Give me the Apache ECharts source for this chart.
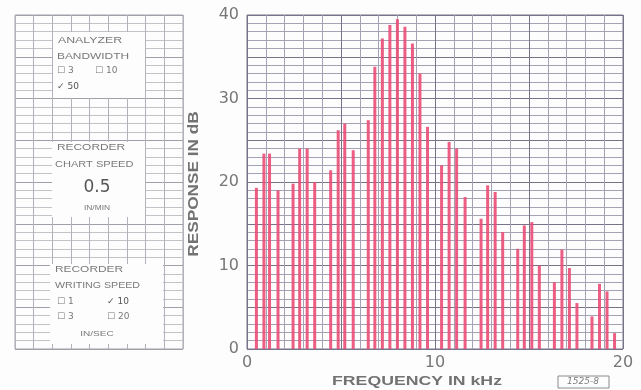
<!DOCTYPE html>
<html>
<head>
<meta charset="utf-8">
<script src="https://cdn.jsdelivr.net/npm/echarts@6/dist/echarts.min.js"></script>
<style>
  html, body { margin: 0; padding: 0; background: #fdfdfd; }
  #chart { width: 641px; height: 390px; }
</style>
</head>
<body>
<div id="chart"></div>
<script>
// spectrum lines (kHz, dB)
var freqKHz = [0.5, 0.9, 1.2, 1.65, 2.45, 2.8, 3.2, 3.6, 4.45, 4.85, 5.2, 5.65,
    6.45, 6.8, 7.2, 7.6, 8.0, 8.4, 8.8, 9.2, 9.6, 10.35, 10.75, 11.15, 11.6,
    12.45, 12.8, 13.2, 13.6, 14.4, 14.75, 15.15, 15.55, 16.35, 16.75, 17.15, 17.55,
    18.35, 18.75, 19.15, 19.55]
var responseDb = [19.3, 23.4, 23.4, 19, 19.8, 24, 24, 20, 21.4, 26.2, 27, 23.8,
    27.4, 33.8, 37.2, 38.8, 39.5, 38.6, 36.6, 33, 26.6, 22, 24.8, 24, 18.2,
    15.6, 19.6, 18.8, 14, 12, 14.8, 15.2, 10, 8, 11.9, 9.7, 5.5,
    3.9, 7.8, 6.9, 1.9]
var xTickLabels = [0, 10, 20]
var yTickLabels = [0, 10, 20, 30, 40]

var points = freqKHz.map(function (f, i) { return [f, responseDb[i]] })

var chart = echarts.init(document.getElementById('chart'))

var ink = '#777'
var panelText = '#787878'
// every 5th grid line heavier, like the recorder paper
var mainLines = ['#77748a', '#a4a2b4', '#a4a2b4', '#a4a2b4', '#a4a2b4']
var panelLines = ['#a0a0a9', '#c2c2c9', '#c2c2c9', '#c2c2c9', '#c2c2c9']

function txt(s, x, y, size, opts) {
    opts = opts || {}
    return {
        type: 'text', z: 120,
        x: x, y: y,
        scaleX: opts.scale || 1,
        rotation: opts.rotation || 0,
        style: {
            text: s, x: 0, y: 0,
            fill: opts.color || panelText,
            font: (opts.weight || 'normal') + ' ' + size + 'px ' + (opts.family || '"Liberation Sans"'),
            textAlign: opts.align || 'left',
            textVerticalAlign: 'middle'
        }
    }
}
function box(x, y, w, h) {
    return { type: 'rect', z: 110, shape: { x: x, y: y, width: w, height: h },
        style: { fill: '#fdfdfd' } }
}

let option = {
    backgroundColor: '#fdfdfd',
    animation: false,
    grid: [
        { left: 247, top: 15, width: 376, height: 334, show: true, borderColor: '#77758a', borderWidth: 1 },
        { left: 15, top: 15, width: 168, height: 334, show: true, borderColor: '#a3a3ab', borderWidth: 1 }
    ],
    xAxis: [
        {
            type: 'value', gridIndex: 0, min: 0, max: 20, interval: 1,
            axisLine: { show: false }, axisTick: { show: false },
            axisLabel: {
                color: ink, fontSize: 16, margin: 6, fontFamily: 'DejaVu Sans',
                formatter: function (v) { return xTickLabels.indexOf(v) >= 0 ? String(v) : '' }
            },
            splitLine: { show: true, lineStyle: { color: mainLines, width: 1 } }
        },
        {
            type: 'value', gridIndex: 1, min: 0, max: 9, interval: 1,
            axisLine: { show: false }, axisTick: { show: false }, axisLabel: { show: false },
            splitLine: { show: true, lineStyle: { color: '#b2b2ba', width: 1 } }
        }
    ],
    yAxis: [
        {
            type: 'value', gridIndex: 0, min: 0, max: 40, interval: 1,
            axisLine: { show: false }, axisTick: { show: false },
            axisLabel: {
                color: ink, fontSize: 16, margin: 8, fontFamily: 'DejaVu Sans',
                formatter: function (v) { return yTickLabels.indexOf(v) >= 0 ? String(v) : '' }
            },
            splitLine: { show: true, lineStyle: { color: mainLines, width: 1 } }
        },
        {
            type: 'value', gridIndex: 1, min: 0, max: 40, interval: 1,
            axisLine: { show: false }, axisTick: { show: false }, axisLabel: { show: false },
            splitLine: { show: true, lineStyle: { color: panelLines, width: 1 } }
        }
    ],
    series: [
        {
            name: 'Response',
            type: 'bar',
            xAxisIndex: 0, yAxisIndex: 0,
            barWidth: 3,
            itemStyle: { color: '#ea4d75', opacity: 0.9 },
            data: points
        }
    ],
    graphic: [
        // axis titles
        txt('RESPONSE IN dB', 194, 184, 14, { rotation: Math.PI / 2, align: 'center', weight: 'bold', color: '#727272', scale: 1.23 }),
        txt('FREQUENCY IN kHz', 417, 381, 13, { align: 'center', weight: 'bold', color: '#727272', scale: 1.36 }),
        { type: 'rect', z: 110, shape: { x: 558, y: 376, width: 51, height: 12 },
            style: { fill: 'none', stroke: '#8a8a8a', lineWidth: 1 } },
        txt('1525-8', 583, 382, 9, { align: 'center', color: '#7a7a7a', family: '"DejaVu Sans"', weight: 'italic' }),

        // analyzer bandwidth
        box(53, 32, 92, 66),
        txt('ANALYZER', 58, 41, 8.5, { scale: 1.45 }),
        txt('BANDWIDTH', 57, 57, 8.5, { scale: 1.4 }),
        txt('\u2610 3', 57, 71, 9, { family: '"DejaVu Sans"' }),
        txt('\u2610 10', 95, 71, 9, { family: '"DejaVu Sans"' }),
        txt('\u2713 50', 57, 87, 9, { family: '"DejaVu Sans"', color: '#555' }),

        // chart speed
        box(52, 142, 93, 75),
        txt('RECORDER', 57, 148, 8.5, { scale: 1.4 }),
        txt('CHART SPEED', 55, 165, 8.5, { scale: 1.3 }),
        txt('0.5', 97, 188, 17, { align: 'center', color: '#555', family: '"DejaVu Sans"' }),
        txt('IN/MIN', 97, 208, 7, { align: 'center', scale: 1.2 }),

        // writing speed
        box(50, 264, 113, 80),
        txt('RECORDER', 55, 270, 8.5, { scale: 1.4 }),
        txt('WRITING SPEED', 55, 286, 8.5, { scale: 1.25 }),
        txt('\u2610 1', 57, 302, 9, { family: '"DejaVu Sans"' }),
        txt('\u2713 10', 107, 302, 9, { family: '"DejaVu Sans"', color: '#555' }),
        txt('\u2610 3', 57, 317, 9, { family: '"DejaVu Sans"' }),
        txt('\u2610 20', 107, 317, 9, { family: '"DejaVu Sans"' }),
        txt('IN/SEC', 97, 334, 8, { align: 'center', scale: 1.25 })
    ]
}
chart.setOption(option)
</script>
</body>
</html>
